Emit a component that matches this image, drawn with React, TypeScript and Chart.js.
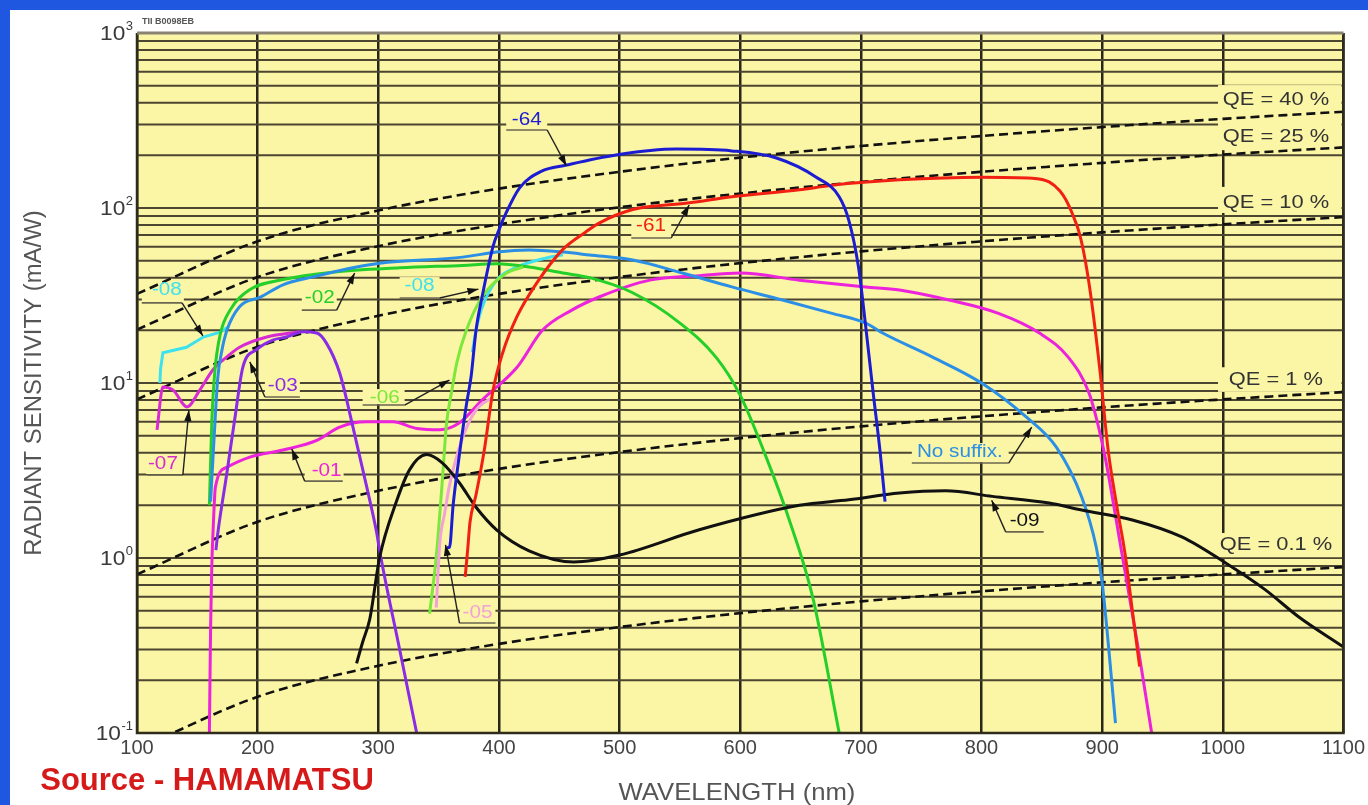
import React, { useEffect, useRef } from "react";
import { Chart, registerables } from "chart.js";

Chart.register(...registerables);

const FONT = '"Liberation Sans", Arial, Helvetica, sans-serif';
const PLOT_BG = "#fbf5a6";

// ---- axes ----
const xTickValues = [100, 200, 300, 400, 500, 600, 700, 800, 900, 1000, 1100];
const yDecadeValues = [0.1, 1, 10, 100, 1000];
const yDecadeExponents = ["-1", "0", "1", "2", "3"];
const yMinorMultipliers = [1, 2, 3, 4, 5, 6, 7, 8, 9];

// ---- QE reference lines (mA/W) ----
const qeWavelengths = [100, 200, 300, 400, 500, 600, 700, 800, 900, 1000, 1100];
const qe40 = [32.3, 64.5, 96.8, 129, 161, 194, 226, 258, 290, 323, 355];
const qe25 = [20.2, 40.3, 60.5, 80.6, 101, 121, 141, 161, 181, 202, 222];
const qe10 = [8.06, 16.1, 24.2, 32.3, 40.3, 48.4, 56.5, 64.5, 72.6, 80.6, 88.7];
const qe1 = [0.806, 1.61, 2.42, 3.23, 4.03, 4.84, 5.65, 6.45, 7.26, 8.06, 8.87];
const qe01 = [0.0806, 0.161, 0.242, 0.323, 0.403, 0.484, 0.565, 0.645, 0.726, 0.806, 0.887];
const qeLabelTexts = ["QE = 40 %", "QE = 25 %", "QE = 10 %", "QE = 1 %", "QE = 0.1 %"];
const qeLabelY = [414, 255, 107, 10.4, 1.19];

// ---- spectral response curves (wavelength nm, radiant sensitivity mA/W) ----
const wl64 = [357, 359, 362, 367, 373, 377, 381, 386, 395, 400, 406, 417, 435, 456, 497, 547, 593, 630, 663, 682, 690, 698, 704, 710, 716, 720];
const val64 = [1.15, 1.15, 2.0, 3.8, 7.5, 11, 20, 31, 60, 75, 94, 130, 162, 176, 201, 217, 212, 193, 150, 116, 85, 46, 21, 9, 4, 2.1];

const wl61 = [372, 374, 376, 381, 388, 395, 403, 415, 431, 453, 472, 483, 511, 558, 593, 649, 676, 732, 800, 842, 856, 865, 870, 876, 881, 886, 891, 898, 905, 912, 919, 925, 931];
const val61 = [0.78, 1.1, 1.6, 2.3, 4.2, 9.0, 14.8, 24, 37, 58, 73, 82, 98, 107, 116, 127, 135, 145, 150, 148, 141, 125, 111, 90, 72, 50, 30, 12, 4.1, 2.0, 1.05, 0.5, 0.24];

const wlNoSuffix = [161, 164, 167, 170, 174.5, 185, 202, 221, 246, 282, 301, 370, 398, 425, 453, 475, 511, 552, 593, 635, 676, 704, 718, 759, 800, 837, 862, 883, 895, 900, 905.5, 911];
const valNoSuffix = [2.1, 5, 10.8, 14.9, 20, 27.3, 30.9, 36.4, 40.4, 46, 48.4, 52.4, 56, 57.5, 56, 53.9, 50.4, 42.5, 35.4, 29.8, 25, 22, 19.3, 14.1, 10, 6.4, 4.3, 2.23, 1.16, 0.72, 0.3, 0.114];

const wl08 = [119, 119.5, 121.5, 141, 155, 169, 176];
const val08 = [10, 12, 14.9, 16, 18.3, 19.5, 21];

const wl08b = [378, 381, 386, 398, 415, 440, 453];
const val08b = [15, 20, 27, 38.6, 46, 52, 54];

const wl02 = [160, 162, 164.6, 169, 177, 193, 221, 262, 318, 370, 398, 425, 453, 475, 510, 550, 580, 600, 620, 640, 660, 682];
const val02 = [2, 6, 11.8, 19, 26, 34, 39, 43, 45.5, 47, 48, 46, 42.5, 40, 33, 22, 14, 8.5, 4, 1.7, 0.6, 0.1];

const wl06 = [342.5, 348, 352.5, 356.6, 361, 365, 373, 386, 406, 420];
const val06 = [0.48, 1.01, 2.45, 5.9, 9.1, 13, 20, 31, 42.4, 46];

const wl05 = [348, 351, 355, 359, 370, 381, 395];
const val05 = [0.52, 1.22, 1.8, 2.6, 4.9, 7, 8.3];

const wl01 = [160, 161, 162, 163, 165, 174.5, 193.5, 221, 249, 268, 290, 312, 332, 351, 367, 386, 415, 436, 460, 483, 525, 566, 600, 649, 704, 732, 773, 814, 848, 872, 889, 897, 903, 915, 930, 941];
const val01 = [0.1, 0.4, 0.9, 1.4, 2.55, 3.3, 3.77, 4.14, 4.7, 5.6, 6.0, 6.0, 5.5, 5.4, 5.9, 8.0, 12.3, 20, 26, 31, 38.7, 41, 42.5, 38.7, 35.4, 34, 29.8, 25, 19.3, 14, 8.8, 5.6, 3.6, 1.2, 0.3, 0.1];

const wl03 = [165.4, 167, 174.5, 181, 187.7, 199, 212.6, 224, 237.4, 249, 257, 268, 279, 290.4, 298.7, 301, 317.7, 331.8];
const val03 = [1.11, 1.39, 3.06, 6.2, 12.3, 15.5, 17.6, 18.3, 19.6, 19.3, 16.9, 11.4, 5.6, 2.55, 1.39, 1.11, 0.3, 0.1];

const wl07 = [116.6, 121.5, 130, 141.4, 152, 163, 174.5, 185, 207.6, 235];
const val07 = [5.4, 9.5, 9.1, 7.3, 9.1, 11.9, 14.1, 16, 18.3, 19.6];

const wl09 = [282, 287, 293, 301, 315, 326, 340, 353, 367, 381, 398, 425, 462, 500, 566, 649, 690, 732, 770, 809, 856, 883, 925, 966, 1002, 1035, 1063, 1100];
const val09 = [0.25, 0.33, 0.45, 1.0, 2.1, 3.2, 3.9, 3.5, 2.7, 1.95, 1.45, 1.1, 0.95, 1.04, 1.45, 2.0, 2.15, 2.35, 2.42, 2.25, 2.06, 1.88, 1.65, 1.32, 0.94, 0.66, 0.46, 0.31];

// ---- colours ----
const C64 = "#1c1cd2";
const C61 = "#f22012";
const CNS = "#2b8fe6";
const C08 = "#3ee2ee";
const C02 = "#25cf2a";
const C06 = "#7de83c";
const C05 = "#f2a2d8";
const C01 = "#ec22dc";
const C07 = "#d82ad2";
const C03 = "#8a2be6";
const C09 = "#111111";

// ---- curve label annotations (data coordinates) ----
type CurveLabel = { text: string; color: string; tx: number; ty: number; ux1: number; ux2: number; uy: number; fromLeft: boolean; ax: number; ay: number };
const curveLabels: CurveLabel[] = [
  { text: "-64", color: C64, tx: 423, ty: 318, ux1: 406, ux2: 440, uy: 279, fromLeft: false, ax: 456, ay: 174 },
  { text: "-61", color: C61, tx: 526, ty: 79, ux1: 509.7, ux2: 542.8, uy: 67.4, fromLeft: false, ax: 557.7, ay: 104 },
  { text: "-02", color: C02, tx: 251.5, ty: 30.6, ux1: 236.6, ux2: 265.5, uy: 26.1, fromLeft: false, ax: 280.4, ay: 42.5 },
  { text: "-08", color: C08, tx: 124.8, ty: 34, ux1: 104, ux2: 137.3, uy: 28.7, fromLeft: false, ax: 154.6, ay: 18.6 },
  { text: "-08", color: C08, tx: 334.2, ty: 35.8, ux1: 317.7, ux2: 350.8, uy: 30.6, fromLeft: false, ax: 383, ay: 34.4 },
  { text: "-06", color: C06, tx: 305.3, ty: 8.2, ux1: 287, ux2: 321.8, uy: 7.48, fromLeft: false, ax: 359, ay: 10.4 },
  { text: "-03", color: C03, tx: 220.8, ty: 9.6, ux1: 206, ux2: 235, uy: 8.32, fromLeft: true, ax: 193.5, ay: 13.2 },
  { text: "-07", color: C07, tx: 121.5, ty: 3.44, ux1: 108.3, ux2: 138, uy: 2.98, fromLeft: false, ax: 143, ay: 7.0 },
  { text: "-01", color: C01, tx: 257.2, ty: 3.14, ux1: 239, ux2: 270.5, uy: 2.75, fromLeft: true, ax: 228.3, ay: 4.2 },
  { text: "-05", color: C05, tx: 382.2, ty: 0.485, ux1: 367.3, ux2: 397.1, uy: 0.425, fromLeft: true, ax: 355.7, ay: 1.19 },
  { text: "No suffix.", color: CNS, tx: 782, ty: 4.03, ux1: 742.2, ux2: 822.5, uy: 3.49, fromLeft: false, ax: 841.6, ay: 5.6 },
  { text: "-09", color: C09, tx: 835.7, ty: 1.63, ux1: 820, ux2: 851.5, uy: 1.41, fromLeft: true, ax: 808.4, ay: 2.14 },
];

const mk = (wl: number[], val: number[]) => wl.map((x, i) => ({ x, y: val[i] }));

const curve = (label: string, wl: number[], val: number[], color: string, extra: any = {}) => ({
  label,
  data: mk(wl, val),
  borderColor: color,
  backgroundColor: color,
  borderWidth: 3,
  pointRadius: 0,
  fill: false,
  cubicInterpolationMode: "monotone",
  order: 0,
  ...extra,
});

const qeLine = (label: string, val: number[]) => ({
  label,
  data: mk(qeWavelengths, val),
  borderColor: "#111111",
  borderWidth: 2.6,
  borderDash: [9, 5],
  pointRadius: 0,
  fill: false,
  cubicInterpolationMode: "monotone",
  order: 10,
});

function drawText(ctx: CanvasRenderingContext2D, text: string, x: number, y: number, size: number, color: string, o: any = {}) {
  ctx.save();
  ctx.translate(x, y);
  if (o.rotate) ctx.rotate(o.rotate);
  ctx.scale(o.sx || 1, 1);
  ctx.font = `${o.weight || "normal"} ${size}px ${FONT}`;
  ctx.fillStyle = color;
  ctx.textAlign = o.align || "center";
  ctx.textBaseline = o.baseline || "middle";
  ctx.fillText(text, 0, 0);
  ctx.restore();
}

function textWidth(ctx: CanvasRenderingContext2D, text: string, size: number, weight = "normal") {
  ctx.save();
  ctx.font = `${weight} ${size}px ${FONT}`;
  const w = ctx.measureText(text).width;
  ctx.restore();
  return w;
}

const LABEL_SIZE = 18;
const LABEL_SX = 1.15;

const decorPlugin = {
  id: "decor",
  beforeDraw(chart: any) {
    const { ctx, chartArea: a } = chart;
    ctx.save();
    ctx.fillStyle = PLOT_BG;
    ctx.fillRect(a.left, a.top, a.right - a.left, a.bottom - a.top);
    ctx.restore();
  },
  beforeDatasetsDraw(chart: any) {
    const { ctx, chartArea: a, scales } = chart;
    const xs = scales.x;
    const ys = scales.y;
    ctx.save();
    // horizontal log grid
    ctx.strokeStyle = "#4c4631";
    ctx.lineWidth = 2;
    for (const d of yDecadeValues.slice(0, 4)) {
      for (const k of yMinorMultipliers) {
        const y = ys.getPixelForValue(k * d);
        ctx.beginPath();
        ctx.moveTo(a.left, y);
        ctx.lineTo(a.right, y);
        ctx.stroke();
      }
    }
    // QE label boxes
    ctx.fillStyle = PLOT_BG;
    const qeBoxes = [
      [504, 214],
      [132, 93.6],
      [12.3, 8.9],
      [1.39, 1.01],
    ];
    const bx = xs.getPixelForValue(996);
    for (const [hi, lo] of qeBoxes) {
      const y1 = ys.getPixelForValue(hi);
      const y2 = ys.getPixelForValue(lo);
      ctx.fillRect(bx, y1, a.right - bx - 2, y2 - y1);
    }
    // curve label boxes
    for (const l of curveLabels) {
      const w = textWidth(ctx, l.text, LABEL_SIZE) * LABEL_SX;
      const tx = xs.getPixelForValue(l.tx);
      const ty = ys.getPixelForValue(l.ty);
      const u1 = xs.getPixelForValue(l.ux1);
      const u2 = xs.getPixelForValue(l.ux2);
      const uy = ys.getPixelForValue(l.uy);
      const left = Math.min(u1, tx - w / 2 - 2);
      const right = Math.max(u2, tx + w / 2 + 2);
      ctx.fillRect(left, ty - 9, right - left, uy - ty + 8);
    }
    ctx.restore();
    // QE texts
    qeLabelTexts.forEach((t, i) => {
      drawText(ctx, t, xs.getPixelForValue(1044), ys.getPixelForValue(qeLabelY[i]), 19, "#333333", { sx: 1.15 });
    });
  },
  afterDatasetsDraw(chart: any) {
    const { ctx, chartArea: a, scales } = chart;
    const xs = scales.x;
    const ys = scales.y;
    // curve labels
    for (const l of curveLabels) {
      const tx = xs.getPixelForValue(l.tx);
      const ty = ys.getPixelForValue(l.ty);
      const u1 = xs.getPixelForValue(l.ux1);
      const u2 = xs.getPixelForValue(l.ux2);
      const uy = ys.getPixelForValue(l.uy);
      const ax = xs.getPixelForValue(l.ax);
      const ay = ys.getPixelForValue(l.ay);
      drawText(ctx, l.text, tx, ty, LABEL_SIZE, l.color, { sx: LABEL_SX });
      ctx.save();
      ctx.strokeStyle = "#6b6650";
      ctx.lineWidth = 1.6;
      ctx.beginPath();
      ctx.moveTo(u1, uy);
      ctx.lineTo(u2, uy);
      ctx.stroke();
      const sx = l.fromLeft ? u1 : u2;
      ctx.strokeStyle = "#222222";
      ctx.lineWidth = 1.4;
      ctx.beginPath();
      ctx.moveTo(sx, uy);
      ctx.lineTo(ax, ay);
      ctx.stroke();
      const ang = Math.atan2(ay - uy, ax - sx);
      const len = 11;
      const hw = 3.6;
      ctx.fillStyle = "#111111";
      ctx.beginPath();
      ctx.moveTo(ax, ay);
      ctx.lineTo(ax - len * Math.cos(ang) + hw * Math.sin(ang), ay - len * Math.sin(ang) - hw * Math.cos(ang));
      ctx.lineTo(ax - len * Math.cos(ang) - hw * Math.sin(ang), ay - len * Math.sin(ang) + hw * Math.cos(ang));
      ctx.closePath();
      ctx.fill();
      ctx.restore();
    }
    // border
    ctx.save();
    ctx.strokeStyle = "#2f2c1c";
    ctx.lineWidth = 2.5;
    ctx.beginPath();
    ctx.moveTo(a.left, a.top);
    ctx.lineTo(a.left, a.bottom);
    ctx.lineTo(a.right, a.bottom);
    ctx.lineTo(a.right, a.top);
    ctx.stroke();
    ctx.strokeStyle = "#8a8272";
    ctx.lineWidth = 3;
    ctx.beginPath();
    ctx.moveTo(a.left, a.top);
    ctx.lineTo(a.right, a.top);
    ctx.stroke();
    ctx.restore();
    // y tick labels
    yDecadeValues.forEach((v, i) => {
      const y = ys.getPixelForValue(v);
      const exp = yDecadeExponents[i];
      const ew = textWidth(ctx, exp, 13);
      const xr = 133;
      drawText(ctx, exp, xr, y - 7, 13, "#3a3a3a", { align: "right" });
      drawText(ctx, "10", xr - ew - 0.5, y + 1, 21, "#3a3a3a", { align: "right", sx: 1.08 });
    });
    // axis titles
    drawText(ctx, "WAVELENGTH (nm)", 737, 793, 24, "#555555", { sx: 1.07 });
    drawText(ctx, "RADIANT SENSITIVITY (mA/W)", 35, 383, 23, "#555555", { rotate: -Math.PI / 2, sx: 1.04 });
    drawText(ctx, "Source - HAMAMATSU", 207, 781, 31, "#d61a1a", { weight: "bold" });
    drawText(ctx, "TII B0098EB", 142, 22, 9, "#555555", { align: "left", weight: "bold" });
  },
};

export default function App() {
  const ref = useRef<HTMLCanvasElement | null>(null);
  useEffect(() => {
    if (!ref.current) return;
    const chart = new Chart(ref.current, {
      type: "line",
      data: {
        datasets: [
          curve("-64", wl64, val64, C64),
          curve("-61", wl61, val61, C61),
          curve("-09", wl09, val09, C09),
          curve("-03", wl03, val03, C03),
          curve("-05", wl05, val05, C05),
          curve("-06", wl06, val06, C06),
          curve("No suffix", wlNoSuffix, valNoSuffix, CNS),
          curve("-02", wl02, val02, C02),
          curve("-01", wl01, val01, C01),
          curve("-07", wl07, val07, C07),
          curve("-08b", wl08b, val08b, C08),
          curve("-08", wl08, val08, C08, { cubicInterpolationMode: "default", tension: 0 }),
          qeLine("QE 40%", qe40),
          qeLine("QE 25%", qe25),
          qeLine("QE 10%", qe10),
          qeLine("QE 1%", qe1),
          qeLine("QE 0.1%", qe01),
        ] as any,
      },
      options: {
        animation: false,
        responsive: false,
        maintainAspectRatio: false,
        layout: { padding: { left: 137, right: 23, top: 33, bottom: 0 } },
        scales: {
          x: {
            type: "linear",
            min: 100,
            max: 1100,
            afterBuildTicks: (s: any) => {
              s.ticks = xTickValues.map((v) => ({ value: v }));
            },
            ticks: {
              color: "#444444",
              font: { family: FONT, size: 20 },
              padding: 3,
              maxRotation: 0,
              autoSkip: false,
              callback: (v: any) => String(v),
            },
            grid: { color: "#29261a", lineWidth: 2.5, drawTicks: false },
            border: { display: false },
            afterFit: (s: any) => {
              s.height = 72;
            },
          },
          y: { type: "logarithmic", display: false, min: 0.1, max: 1000 },
        },
        plugins: { legend: { display: false }, tooltip: { enabled: false } },
      } as any,
      plugins: [decorPlugin],
    });
    return () => chart.destroy();
  }, []);

  return (
    <div style={{ position: "fixed", left: 0, top: 0, width: 1368, height: 805, background: "#ffffff", overflow: "hidden" }}>
      <div style={{ position: "absolute", left: 0, top: 0, width: 1368, height: 10, background: "#1f57e0" }} />
      <div style={{ position: "absolute", left: 0, top: 0, width: 10, height: 805, background: "#1f57e0" }} />
      <canvas ref={ref} width={1368} height={805} style={{ position: "absolute", left: 0, top: 0, width: 1368, height: 805 }} />
    </div>
  );
}
